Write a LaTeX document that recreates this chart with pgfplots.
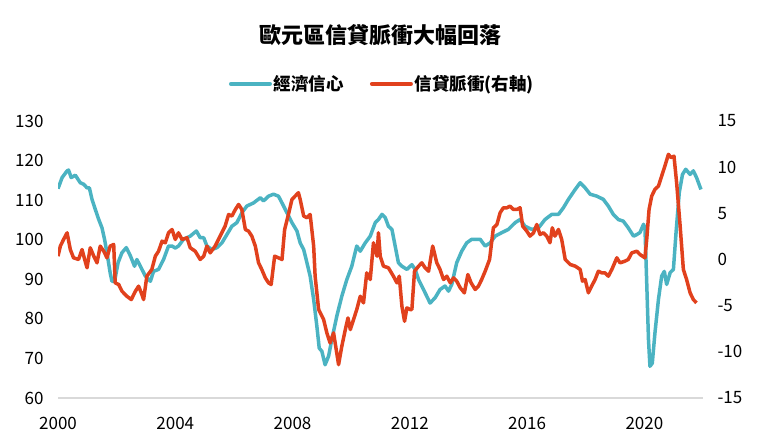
\documentclass[border=0pt]{standalone}
\usepackage{fontspec}
\setmainfont{Noto Sans CJK TC}
\usepackage{pgfplots}
\pgfplotsset{compat=1.18}
\definecolor{tealc}{HTML}{4BB3C2}
\definecolor{redc}{HTML}{E1411D}
\pgfplotstableread{
x y
2000.00 112.9
2000.14 115.7
2000.31 117.4
2000.36 117.6
2000.45 115.7
2000.59 116.3
2000.76 114.4
2000.88 114.0
2000.99 113.1
2001.07 113.1
2001.16 110.2
2001.27 107.7
2001.39 105.1
2001.50 103.0
2001.59 100.0
2001.67 96.7
2001.78 91.6
2001.84 89.5
2001.93 89.5
2002.05 94.2
2002.18 96.7
2002.33 98.0
2002.47 95.9
2002.61 93.3
2002.69 95.0
2002.81 93.3
2002.98 90.8
2003.15 89.5
2003.26 92.0
2003.43 92.5
2003.60 95.0
2003.77 98.4
2003.89 98.4
2004.00 97.9
2004.11 98.4
2004.28 100.1
2004.51 100.9
2004.72 102.2
2004.85 100.5
2004.97 100.5
2005.08 98.4
2005.25 97.5
2005.42 98.0
2005.59 99.2
2005.76 101.3
2005.93 103.4
2006.10 104.3
2006.27 106.8
2006.44 108.5
2006.67 109.3
2006.90 110.6
2007.01 109.8
2007.18 111.0
2007.35 111.5
2007.52 111.0
2007.64 109.3
2007.81 106.8
2007.98 104.3
2008.15 102.2
2008.26 99.2
2008.38 97.5
2008.49 94.2
2008.60 90.8
2008.72 84.9
2008.83 78.1
2008.91 72.6
2009.00 71.8
2009.11 68.4
2009.23 70.6
2009.34 74.8
2009.51 80.7
2009.68 85.7
2009.85 89.9
2010.02 93.3
2010.19 98.4
2010.31 97.1
2010.48 99.2
2010.65 100.9
2010.82 104.3
2010.93 105.1
2011.05 106.4
2011.16 105.6
2011.27 103.4
2011.39 102.6
2011.50 98.4
2011.61 94.2
2011.73 93.3
2011.90 92.5
2012.07 93.7
2012.18 92.5
2012.30 89.9
2012.52 86.6
2012.69 84.0
2012.86 85.3
2013.03 87.4
2013.20 88.3
2013.32 87.0
2013.43 88.7
2013.60 94.2
2013.77 97.1
2013.94 99.2
2014.11 100.1
2014.28 100.1
2014.40 100.1
2014.57 98.4
2014.74 99.2
2014.91 100.9
2015.14 101.8
2015.36 102.6
2015.59 104.3
2015.76 105.1
2015.93 103.4
2016.16 102.6
2016.39 103.0
2016.61 105.1
2016.84 106.4
2017.07 106.4
2017.24 108.1
2017.41 110.2
2017.64 112.7
2017.81 114.4
2017.98 113.1
2018.15 111.5
2018.38 111.0
2018.60 110.2
2018.77 108.5
2018.94 106.4
2019.11 105.1
2019.28 104.7
2019.45 103.0
2019.63 100.9
2019.74 101.3
2019.85 101.8
2019.97 103.9
2020.02 103.0
2020.08 89.1
2020.14 74.8
2020.19 68.0
2020.27 68.8
2020.36 76.4
2020.48 84.9
2020.59 90.8
2020.68 92.0
2020.76 88.7
2020.88 91.7
2020.99 92.5
2021.08 101.8
2021.19 111.9
2021.30 116.5
2021.41 117.8
2021.56 116.5
2021.67 117.4
2021.78 115.7
2021.93 112.7
}\conf
\pgfplotstableread{
x y
2000.00 0.36
2000.08 1.45
2000.19 2.17
2000.31 2.89
2000.42 1.08
2000.53 0.18
2000.70 0.00
2000.82 1.08
2000.91 0.00
2000.99 -0.90
2001.10 1.27
2001.22 0.36
2001.33 -0.36
2001.44 1.45
2001.56 0.90
2001.67 0.18
2001.78 1.45
2001.90 1.63
2001.95 -2.53
2002.07 -2.71
2002.18 -3.43
2002.35 -3.98
2002.50 -4.34
2002.64 -3.43
2002.75 -2.89
2002.84 -3.61
2002.92 -4.34
2003.03 -1.81
2003.20 -1.08
2003.32 0.36
2003.43 0.90
2003.55 1.99
2003.66 1.81
2003.77 2.89
2003.89 3.25
2004.00 2.17
2004.11 2.89
2004.23 2.17
2004.40 2.35
2004.51 1.27
2004.68 0.90
2004.85 0.00
2004.97 0.36
2005.08 1.45
2005.19 0.72
2005.36 1.45
2005.53 2.53
2005.70 3.61
2005.82 4.88
2005.93 4.70
2006.05 5.42
2006.16 5.96
2006.27 5.42
2006.39 3.25
2006.50 3.07
2006.61 2.53
2006.73 1.45
2006.84 -0.36
2006.95 -1.08
2007.07 -1.99
2007.18 -2.53
2007.27 -2.71
2007.39 0.36
2007.52 0.18
2007.64 0.00
2007.73 3.25
2007.86 4.88
2007.98 6.51
2008.09 6.87
2008.20 7.23
2008.26 6.51
2008.38 4.70
2008.49 4.52
2008.60 4.88
2008.72 1.45
2008.77 -1.81
2008.89 -5.42
2009.06 -6.51
2009.17 -7.95
2009.28 -9.04
2009.40 -7.95
2009.57 -11.39
2009.68 -9.40
2009.80 -7.59
2009.89 -6.33
2009.97 -7.59
2010.08 -6.51
2010.19 -5.42
2010.31 -3.98
2010.42 -4.70
2010.53 -1.45
2010.65 -2.17
2010.76 1.81
2010.88 0.36
2010.93 2.89
2010.99 0.36
2011.10 -0.72
2011.27 -0.90
2011.44 -1.81
2011.56 -2.53
2011.64 -1.81
2011.73 -5.06
2011.82 -6.69
2011.90 -5.24
2012.01 -5.42
2012.07 -5.42
2012.16 -1.27
2012.30 -0.72
2012.41 -0.36
2012.52 -0.90
2012.64 -1.27
2012.78 1.45
2012.92 -0.36
2013.03 -1.08
2013.15 -2.17
2013.26 -1.81
2013.38 -2.53
2013.49 -1.99
2013.60 -2.35
2013.72 -3.07
2013.86 -3.61
2013.98 -1.63
2014.09 -2.53
2014.23 -3.25
2014.34 -2.89
2014.45 -2.17
2014.57 -1.27
2014.72 0.00
2014.85 3.43
2014.97 3.79
2015.08 5.06
2015.19 5.60
2015.31 5.60
2015.42 5.78
2015.53 5.42
2015.65 5.42
2015.76 5.60
2015.85 3.61
2015.99 3.07
2016.10 2.53
2016.22 2.89
2016.33 3.79
2016.44 2.71
2016.56 2.89
2016.67 2.53
2016.78 1.81
2016.86 3.43
2016.95 2.53
2017.07 3.25
2017.18 2.17
2017.30 0.00
2017.47 -0.54
2017.64 -0.72
2017.81 -1.08
2017.89 -2.35
2017.98 -2.17
2018.09 -3.61
2018.20 -2.89
2018.32 -2.17
2018.43 -1.27
2018.55 -1.45
2018.66 -1.45
2018.77 -1.81
2018.89 -1.08
2019.06 0.18
2019.17 -0.36
2019.34 -0.18
2019.45 0.00
2019.57 0.72
2019.74 0.90
2019.85 0.54
2020.02 0.18
2020.08 2.17
2020.16 5.42
2020.25 6.87
2020.36 7.59
2020.48 7.95
2020.59 9.04
2020.70 10.12
2020.82 11.39
2020.91 11.03
2021.01 11.20
2021.10 8.31
2021.22 3.61
2021.33 -1.08
2021.44 -2.17
2021.56 -3.61
2021.67 -4.34
2021.78 -4.70
}\credit
\begin{document}
\begin{tikzpicture}[x=1bp,y=1bp,font=\fontsize{17bp}{20bp}\selectfont]
\useasboundingbox (0,0) rectangle (760,445);
\node[font=\fontsize{22bp}{26bp}\selectfont\bfseries] at (380,410) {歐元區信貸脈衝大幅回落};
\begin{axis}[
  at={(58bp,47bp)}, anchor=south west, scale only axis,
  width=645bp, height=277bp,
  xmin=2000, xmax=2022, ymin=60, ymax=130,
  axis x line=bottom, axis y line=left,
  axis line style={-},
  y axis line style={draw=none},
  x axis line style={draw=black!15, line width=1.2bp},
  major tick length=0pt,
  xtick={2000,2004,2008,2012,2016,2020},
  xticklabels={2000,2004,2008,2012,2016,2020},
  ytick={60,70,...,130},
  /pgf/number format/assume math mode=true,
  ticklabel style={font=\fontsize{17bp}{20bp}\selectfont},
  xticklabel style={yshift=-16bp},
  yticklabel style={xshift=-11bp},
]
\addplot[tealc, line width=3.5bp, line join=round] table[x=x,y=y] {\conf};
\end{axis}
\begin{axis}[
  at={(58bp,47bp)}, anchor=south west, scale only axis,
  width=645bp, height=277bp,
  xmin=2000, xmax=2022, ymin=-15, ymax=15,
  axis x line=none, axis y line=right,
  axis line style={-},
  y axis line style={draw=none},
  major tick length=0pt,
  ytick={-15,-10,...,15},
  /pgf/number format/assume math mode=true,
  ticklabel style={font=\fontsize{17bp}{20bp}\selectfont},
  yticklabel style={xshift=11bp},
  legend columns=2,
  legend style={draw=none, fill=none, at={(0.503,1.134)}, anchor=center,
    font=\fontsize{17.5bp}{21bp}\selectfont\bfseries,
    /tikz/every even column/.append style={column sep=24bp}},
  legend image code/.code={\draw[#1, line width=4bp, line cap=round] (0bp,0bp) -- (39bp,0bp);},
]
\addlegendimage{tealc}
\addlegendentry{經濟信心}
\addplot[redc, line width=3.5bp, line join=round] table[x=x,y=y] {\credit};
\addlegendentry{信貸脈衝(右軸)}
\end{axis}
\end{tikzpicture}
\end{document}
